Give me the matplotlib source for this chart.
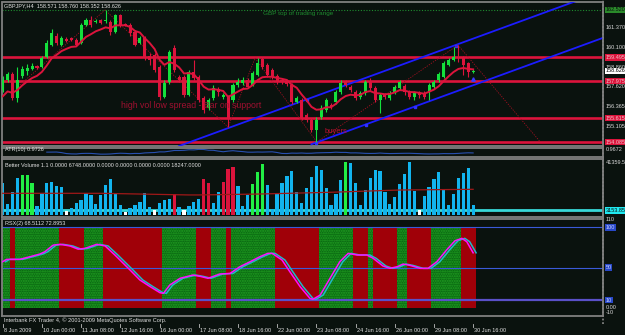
import numpy as np
import matplotlib
matplotlib.use('Agg')
import matplotlib.pyplot as plt
from matplotlib.transforms import blended_transform_factory

plt.rcParams['font.family'] = ['Liberation Sans', 'DejaVu Sans']

# GBPJPY H4, 8 Jun - 30 Jun 2009
opens = [157.41, 158.05, 158.43, 156.90, 158.30, 158.62, 158.75, 158.94, 158.88, 159.52,
         160.28, 160.86, 160.28, 160.67, 160.73, 160.60, 160.41, 161.56, 161.88, 161.75,
         161.88, 161.82, 161.75, 161.12, 162.20, 161.63, 161.56, 161.12, 160.41, 160.73,
         159.58, 159.65, 158.88, 156.96, 157.92, 160.09, 158.24, 158.24, 157.09, 158.56,
         158.24, 156.90, 156.26, 156.90, 157.47, 156.96, 156.96, 156.77, 157.73, 157.86,
         158.05, 157.73, 158.37, 159.39, 159.01, 158.69, 158.30, 158.05, 157.92, 157.73,
         156.64, 156.77, 155.81, 155.49, 154.85, 155.68, 156.13, 156.45, 156.64, 157.28,
         157.92, 157.60, 157.28, 156.96, 157.22, 157.92, 157.54, 156.77, 157.09, 156.90,
         157.28, 157.54, 157.66, 157.28, 156.96, 157.22, 157.22, 157.28, 157.60, 158.05,
         158.24, 159.01, 159.33, 159.52, 159.45, 159.13, 158.56]
highs = [158.30, 158.56, 158.56, 158.88, 158.94, 159.07, 159.13, 159.01, 159.58, 160.60,
         161.31, 161.05, 160.86, 160.80, 160.80, 160.73, 161.69, 162.01, 162.14, 161.95,
         161.95, 162.52, 161.88, 162.27, 162.27, 161.69, 161.69, 161.24, 160.86, 160.86,
         159.77, 159.77, 159.01, 158.05, 159.97, 160.28, 158.37, 158.37, 158.69, 159.33,
         158.37, 157.03, 156.90, 157.73, 157.60, 157.22, 157.09, 157.86, 158.18, 158.24,
         158.18, 158.62, 159.45, 159.52, 159.13, 158.81, 158.43, 158.18, 158.05, 157.86,
         157.03, 156.90, 155.94, 155.62, 155.68, 156.45, 156.90, 156.58, 157.41, 158.05,
         158.05, 157.73, 157.41, 157.35, 158.05, 158.18, 157.66, 157.22, 157.22, 157.35,
         157.73, 158.05, 157.79, 157.41, 157.35, 157.35, 157.35, 157.86, 158.05, 158.56,
         159.26, 159.45, 160.16, 160.28, 159.58, 159.20, 158.75]
lows = [157.28, 157.92, 156.77, 156.64, 158.18, 158.37, 158.69, 158.75, 158.81, 159.45,
        160.22, 160.28, 160.22, 160.48, 160.54, 160.22, 160.35, 161.50, 161.43, 161.69,
        161.63, 161.69, 160.92, 161.05, 161.43, 161.50, 160.86, 160.22, 160.35, 159.33,
        159.01, 158.56, 156.77, 156.90, 157.79, 158.56, 157.92, 156.96, 157.03, 158.05,
        156.64, 155.94, 156.13, 156.77, 157.03, 156.83, 155.04, 156.64, 157.60, 157.73,
        157.54, 157.66, 158.30, 158.75, 158.24, 158.11, 157.79, 157.79, 157.66, 156.51,
        156.58, 155.49, 155.36, 154.73, 154.09, 155.56, 156.00, 156.19, 156.51, 157.15,
        157.60, 157.28, 156.77, 156.83, 157.09, 157.41, 156.64, 155.94, 156.83, 156.77,
        157.15, 157.41, 157.09, 156.83, 156.77, 156.90, 156.83, 156.77, 157.47, 157.92,
        158.18, 158.94, 159.26, 159.20, 158.37, 158.24, 158.50]
closes = [158.05, 158.43, 156.90, 158.05, 158.75, 158.81, 158.94, 158.81, 159.45, 160.41,
          161.05, 160.41, 160.73, 160.54, 160.60, 160.28, 161.56, 161.88, 161.56, 161.82,
          161.69, 161.88, 161.12, 162.20, 161.56, 161.56, 161.05, 160.28, 160.73, 159.45,
          159.33, 158.69, 156.96, 157.86, 159.84, 158.69, 158.05, 157.09, 158.56, 158.18,
          156.77, 156.13, 156.77, 157.54, 157.28, 157.09, 155.62, 157.73, 157.92, 158.05,
          157.60, 158.50, 159.13, 158.88, 158.37, 158.24, 157.92, 157.92, 157.79, 156.64,
          156.90, 155.62, 155.49, 154.85, 155.49, 156.26, 156.77, 156.32, 157.28, 157.86,
          157.73, 157.41, 156.90, 157.22, 157.92, 157.54, 156.77, 157.09, 156.96, 157.22,
          157.60, 157.92, 157.28, 156.96, 157.22, 157.09, 156.96, 157.73, 157.92, 158.43,
          159.13, 159.33, 159.52, 159.45, 159.01, 158.56, 158.626]

volumes = [24586, 8274, 17730, 28762, 31126, 31126, 24822, 6698, 16942, 24822,
           25610, 22458, 21670, 2758, 5122, 9062, 11426, 16942, 15366, 8274,
           15366, 23246, 27974, 16942, 7486, 1970, 5122, 7486, 9850, 16942,
           5910, 3546, 9062, 11426, 12214, 16154, 5910, 3546, 6698, 9850,
           12214, 27974, 24822, 9062, 17730, 25610, 35854, 37430, 22458, 6698,
           15366, 24034, 33490, 39794, 23246, 4334, 16154, 24822, 30338, 34278,
           17730, 9062, 20882, 29550, 38218, 35066, 20882, 7486, 16154, 27186,
           41000, 40582, 24822, 7486, 19306, 28762, 35066, 34278, 17730, 8274,
           13790, 24034, 31914, 41359.5, 18518, 3546, 14578, 21670, 27974, 33490,
           20094, 7486, 16154, 28762, 32702, 36642, 7486]
# b = normal, g = climax up, r = climax down, w = low volume
vol_class = list("bbbbgggbbb" "bbbwbbbbbb" "bbbbbwbbbb" "bwbbbrbwbb" "brrbbrrrbb"
                 "bgggbbbbbb" "bbbbbbbbbb" "gbbbbbbbbb" "bbbbbwbbbb" "bbbbbbb")
vol_avg_x = [0, 20, 38, 40, 52.5, 66.8, 81, 96]
vol_avg = [16700, 16700, 15400, 15400, 16150, 17500, 19300, 19850]

ma_seed = 156.7
ma_period = 8

levels_red = [159.495, 157.975, 155.615, 154.085]
level_top = 162.52

chan_up_x = [36, 117]
chan_up_y = [153.83, 163.09]
chan_lo_x = [63, 122.5]
chan_lo_y = [153.94, 160.74]
chan_mark_x = [62, 92.5, 64, 74.1, 84.1]
chan_mark_y = [156.80, 160.25, 154.05, 155.18, 156.32]

zz_x = [3.5, 20.9, 46, 51.5, 64.1, 92.9, 109.7]
zz_y = [157.73, 162.52, 155.04, 159.45, 154.09, 160.28, 154.09]

rsx_x = [0, 0.8, 3.5, 5.6, 7.6, 8.6, 10.3, 11.7, 13.7, 15.4, 16.8, 19.2, 20.9, 22.9, 26,
         28, 30.1, 32.1, 32.8, 34.1, 36.2, 38.8, 40.3, 41.9, 44.3, 46.4, 48.4, 50.5,
         52.5, 54.1, 55, 57, 58.6, 60.7, 62.7, 63.3, 64.8, 66.8, 68.8, 70.5, 72.3,
         74.3, 75.6, 77.6, 79, 80.5, 81.7, 83.1, 85.2, 86.8, 88.6, 90.7, 92.3, 93.7,
         94.7, 96]
rsx_val = [57.5, 60.4, 60.4, 63.7, 67, 69.8, 78, 79, 77, 73, 74, 79, 77, 65.8, 47.2,
           34.9, 26.6, 19.2, 18.4, 28.7, 37, 41, 39.4, 37, 42.3, 43, 51.3, 57.5,
           63.7, 67.8, 67.8, 59.6, 45.1, 26.6, 12.2, 11, 16.3, 37, 57.5, 67.8, 65.8,
           65.8, 61.7, 52.2, 49.3, 51.3, 54.6, 53, 49.3, 49.3, 57.5, 72.8, 83.4, 86.4,
           82.2, 68.5]
band_start = [0, 2, 3, 12, 17, 21, 33, 40, 43, 46, 47, 56, 65, 72, 75, 76, 81, 83, 88, 94]
band_end = [2, 3, 12, 17, 21, 33, 40, 43, 46, 47, 56, 65, 72, 75, 76, 81, 83, 88, 94, 97]
band_up = [1, 0, 1, 0, 1, 0, 1, 0, 1, 0, 1, 0, 1, 0, 1, 0, 1, 0, 1, 0]

date_pos = [0, 8, 16, 24, 32, 40, 48, 56, 64, 72, 80, 88, 96]
date_lbl = ['8 Jun 2009', '10 Jun 00:00', '11 Jun 08:00', '12 Jun 16:00', '16 Jun 00:00',
            '17 Jun 08:00', '18 Jun 16:00', '22 Jun 00:00', '23 Jun 08:00', '24 Jun 16:00',
            '26 Jun 00:00', '29 Jun 08:00', '30 Jun 16:00']

BG = '#0a120e'
GRID = '#808080'
BULL = '#14e03c'
BEAR = '#dc143c'
W, H = 625, 335

fig = plt.figure(figsize=(W / 100, H / 100), dpi=100, facecolor=BG)


def panel(y0, y1):
    ax = fig.add_axes([2 / W, 1 - y1 / H, 601 / W, (y1 - y0) / H])
    ax.set_facecolor(BG)
    ax.set_xticks([])
    ax.set_yticks([])
    for s in ax.spines.values():
        s.set_color(GRID)
        s.set_linestyle((0, (1, 1)))
        s.set_linewidth(1.3)
    ax.set_xlim(-0.14, 122.5)
    return ax


def rlabel(ax, val, text, fc=None, tc='#d8d8d8'):
    tr = blended_transform_factory(fig.transFigure, ax.transData)
    kw = {}
    if fc is not None:
        kw['bbox'] = dict(boxstyle='square,pad=0.15', fc=fc, ec='none')
    ax.text(605.5 / W, val, text, transform=tr, fontsize=4, color=tc,
            va='center', ha='left', clip_on=False, zorder=5, **kw)


x = np.arange(len(closes))
o = np.array(opens)
h = np.array(highs)
l = np.array(lows)
c = np.array(closes)

# ---- price panel
ax = panel(2, 146)
ax.set_ylim(153.83, 163.03)
ax.axhline(level_top, color='#1e8c2e', lw=0.8, ls=(0, (1, 1.5)))
for lv in levels_red:
    ax.axhline(lv, color=BEAR, lw=1.9, zorder=2)
ax.plot(chan_up_x, chan_up_y, color='#1c1cff', lw=1.3, zorder=3)
ax.plot(chan_lo_x, chan_lo_y, color='#1c1cff', lw=1.3, zorder=3)
ax.plot(chan_mark_x, chan_mark_y, 's', color='#3030ff', ms=1.8, zorder=3)
ax.plot(zz_x, zz_y, color='#a01020', lw=0.6, ls=(0, (1.5, 1.5)), zorder=3)

col = np.where(c >= o, BULL, BEAR)
ax.vlines(x, l, h, colors=col, lw=0.8, zorder=4)
ax.bar(x, np.maximum(np.abs(c - o), 0.04), bottom=np.minimum(o, c), width=0.62,
       color=col, lw=0, zorder=4)

a = 2 / (ma_period + 1)
ma = []
m = ma_seed
for cl in closes:
    m = m + a * (cl - m)
    ma.append(m)
ax.plot(x, ma, color=BEAR, lw=1.4, zorder=5)
ax.plot([96], [158.11], '^', color='#3a3aff', ms=2.5, zorder=5)

ax.text(53.1, 162.27, 'GBP top of trading range', color='#1e8c2e', fontsize=4.6,
        va='center', ha='left')
ax.text(24.1, 156.39, 'high vol low spread - Bar on support', color='#a01030',
        fontsize=6.3, va='center', ha='left', zorder=6)
ax.text(65.6, 154.73, 'buyers', color='#c01030', fontsize=5.4, va='center', ha='left')
fig.text(4 / W, 1 - 6 / H, 'GBPJPY,H4  158.571 158.760 158.352 158.626', color='#e0e0e0',
         fontsize=4, va='center', ha='left')

for v, t in [(161.370, '161.370'), (160.100, '160.100'), (158.860, '158.860'),
             (157.620, '157.620'), (156.365, '156.365'), (155.105, '155.105')]:
    rlabel(ax, v, t)
rlabel(ax, level_top, '162.520', fc='#2a8a2a', tc='#0a120e')
for lv in levels_red:
    rlabel(ax, lv, f'{lv:.3f}', fc=BEAR, tc='#f0c0c8')
rlabel(ax, closes[-1], '158.626', fc='#ffffff', tc='#000000')

# ---- ATR panel
ax_a = panel(148, 157)
tr_ = np.maximum(h[1:] - l[1:], np.maximum(np.abs(h[1:] - c[:-1]), np.abs(l[1:] - c[:-1])))
tr_ = np.concatenate([[h[0] - l[0]], tr_])
atr = np.convolve(tr_, np.ones(10) / 10, mode='valid')
ax_a.plot(x[9:], atr, color='#2850b0', lw=0.8)
rng = atr.max() - atr.min()
ax_a.set_ylim(atr.min() - 0.6 * rng, atr.max() + 0.3 * rng)
ax_a.text(0.5, atr.max() + 0.05 * rng, 'ATR(10) 0.9726', color='#e0e0e0', fontsize=4,
          va='center', ha='left')
rlabel(ax_a, atr.max() + 0.05 * rng, '0.9672')

# ---- volume panel
ax_v = panel(159, 217)
ax_v.set_ylim(-1970, 43734)
vcol = {'b': '#12b4ee', 'g': '#22ee44', 'r': '#dc143c', 'w': '#ffffff'}
ax_v.axhline(3153.85, color='#38d8d8', lw=2.0, zorder=1)
ax_v.bar(x, volumes, width=0.66, color=[vcol[k] for k in vol_class], lw=0, zorder=2)
ax_v.plot(vol_avg_x, vol_avg, color='#a01818', lw=0.9, zorder=3)
ax_v.text(0.5, 38600, 'Better Volume 1.1 0.0000 6748.0000 0.0000 0.0000 0.0000 0.0000 18247.0000',
          color='#e0e0e0', fontsize=4, va='center', ha='left', zorder=4)
rlabel(ax_v, 41359.5, '41359.5')
rlabel(ax_v, 3153.85, '3153.85', fc='#20e8f0', tc='#0a120e')

# ---- RSX panel
ax_r = panel(219, 316)
ax_r.set_ylim(-9.6, 110.3)
for s0, s1, up in zip(band_start, band_end, band_up):
    if up:
        ax_r.bar(s0 - 0.5, 100, width=s1 - s0, bottom=0, align='edge', color='#0a6a12',
                 hatch='.......', ec='#22a022', lw=0, zorder=1)
    else:
        ax_r.bar(s0 - 0.5, 100, width=s1 - s0, bottom=0, align='edge', color='#a00008',
                 lw=0, zorder=1)
ax_r.axhline(100, color='#3a5ad8', lw=0.8, zorder=2)
ax_r.axhline(50, color='#3a5ad8', lw=0.8, zorder=2)
ax_r.axhline(10, color='#5a50c8', lw=1.6, zorder=2)
ax_r.plot(np.array(rsx_x) + 0.6, rsx_val, color='#20b8c8', lw=1.1, zorder=3)
ax_r.plot(rsx_x, rsx_val, color='#ff10ff', lw=1.1, zorder=4)
ax_r.text(0.5, 105, 'RSX(2) 68.5112 72.8953', color='#e0e0e0', fontsize=4,
          va='center', ha='left')
rlabel(ax_r, 110, '110')
rlabel(ax_r, 100, '100', fc='#2848c8', tc='#c8d0ff')
rlabel(ax_r, 50, '50', fc='#2848c8', tc='#c8d0ff')
rlabel(ax_r, 10, '10', fc='#2848c8', tc='#c8d0ff')
rlabel(ax_r, 1.5, '0.00')
rlabel(ax_r, -5.5, '-10')

fig.text(4 / W, 1 - 320 / H, 'Interbank FX Trader 4, \u00a9 2001-2009 MetaQuotes Software Corp.',
         color='#e0e0e0', fontsize=4.1, va='center', ha='left')

# ---- time axis
tb = blended_transform_factory(ax_r.transData, fig.transFigure)
for p, t in zip(date_pos, date_lbl):
    ax_r.plot([p, p], [1 - 324 / H, 1 - 327 / H], color='#c0c0c0', lw=0.6,
              transform=tb, clip_on=False)
    ax_r.text(p + 0.2, 1 - 330 / H, t, transform=tb, color='#e0e0e0', fontsize=4,
              va='center', ha='left', clip_on=False)

# right-side scale separator
fig.add_artist(plt.Line2D([603 / W, 603 / W], [1 - 324 / H, 1], transform=fig.transFigure,
                          color=GRID, lw=1.3, ls=(0, (1, 1))))

fig.savefig('out.png', dpi=100, facecolor=BG)
